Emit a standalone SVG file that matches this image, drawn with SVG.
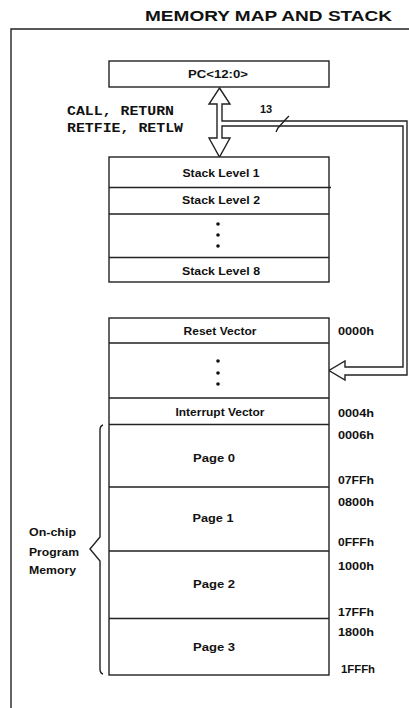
<svg xmlns="http://www.w3.org/2000/svg" width="409" height="708" viewBox="0 0 409 708">
<style>
.box{fill:#fff;stroke:#222;stroke-width:1.4}
.ln{fill:none;stroke:#222;stroke-width:1.4}
.lbl{font-family:"Liberation Sans",Arial,sans-serif;font-size:11px;font-weight:bold;fill:#111;text-anchor:middle}
.lft{text-anchor:start}
.addr{font-family:"Liberation Sans",Arial,sans-serif;font-size:10px;font-weight:bold;fill:#111}
.mono{font-family:"Liberation Mono","Courier New",monospace;font-size:12px;font-weight:bold;fill:#111}
.dot{fill:#111}
</style>
<rect width="409" height="708" fill="#fff"/>
<text x="145" y="21" font-family="Liberation Sans,Arial,sans-serif" font-size="14" font-weight="bold" textLength="247" lengthAdjust="spacingAndGlyphs" fill="#111">MEMORY MAP AND STACK</text>
<path class="ln" d="M11 708 V29 H409" stroke-width="1.8"/>

<g id="connectors">
<path class="box" d="M219.5 88 L230 104 L222 104 L222 121 L407 121 L407 375 L345 375 L345 380 L329 370.5 L345 361 L345 367 L403 367 L403 126 L222 126 L222 138 L230 138 L219.5 157 L209 138 L217 138 L217 104 L209 104 Z"/>
<path class="ln" d="M276 132 L278 128 L286 119 L289 116"/>
<text x="260" y="113" font-family="Liberation Sans,Arial,sans-serif" font-size="11" font-weight="bold" fill="#111">13</text>
</g>

<g id="pc">
<rect class="box" x="109" y="61" width="220" height="26"/>
<text class="lbl" x="218" y="78" textLength="60" lengthAdjust="spacingAndGlyphs">PC&lt;12:0&gt;</text>
</g>

<g id="instr">
<text class="mono" x="67" y="115" textLength="107" lengthAdjust="spacingAndGlyphs">CALL, RETURN</text>
<text class="mono" x="67" y="132" textLength="116" lengthAdjust="spacingAndGlyphs">RETFIE, RETLW</text>
</g>

<g id="stack">
<rect class="box" x="109" y="157" width="220" height="125"/>
<path class="ln" d="M109 187.5 H331 M109 214 H329 M109 257.5 H329"/>
<text class="lbl" x="221" y="177" textLength="77" lengthAdjust="spacingAndGlyphs">Stack Level 1</text>
<text class="lbl" x="221" y="204" textLength="78" lengthAdjust="spacingAndGlyphs">Stack Level 2</text>
<circle class="dot" cx="218" cy="224" r="1.8"/>
<circle class="dot" cx="218" cy="235" r="1.8"/>
<circle class="dot" cx="218" cy="246" r="1.8"/>
<text class="lbl" x="221" y="275" textLength="78" lengthAdjust="spacingAndGlyphs">Stack Level 8</text>
</g>

<g id="memory">
<rect class="box" x="109" y="318" width="220" height="357"/>
<path class="ln" d="M109 343 H329 M109 398 H329 M109 424.5 H329 M109 487 H329 M109 551 H329 M109 618.5 H329"/>
<text class="lbl" x="220" y="335" textLength="73" lengthAdjust="spacingAndGlyphs">Reset Vector</text>
<circle class="dot" cx="218" cy="361" r="1.8"/>
<circle class="dot" cx="218" cy="373" r="1.8"/>
<circle class="dot" cx="218" cy="384" r="1.8"/>
<text class="lbl" x="220" y="416" textLength="89" lengthAdjust="spacingAndGlyphs">Interrupt Vector</text>
<text class="lbl" x="214" y="462" textLength="42" lengthAdjust="spacingAndGlyphs">Page 0</text>
<text class="lbl" x="213" y="522" textLength="41" lengthAdjust="spacingAndGlyphs">Page 1</text>
<text class="lbl" x="214" y="588" textLength="42" lengthAdjust="spacingAndGlyphs">Page 2</text>
<text class="lbl" x="214" y="651" textLength="42" lengthAdjust="spacingAndGlyphs">Page 3</text>
</g>

<g id="addresses">
<text class="addr" x="338" y="335" textLength="36" lengthAdjust="spacingAndGlyphs">0000h</text>
<text class="addr" x="338" y="417" textLength="36" lengthAdjust="spacingAndGlyphs">0004h</text>
<text class="addr" x="338" y="439" textLength="36" lengthAdjust="spacingAndGlyphs">0006h</text>
<text class="addr" x="338" y="484" textLength="36" lengthAdjust="spacingAndGlyphs">07FFh</text>
<text class="addr" x="338" y="506" textLength="36" lengthAdjust="spacingAndGlyphs">0800h</text>
<text class="addr" x="338" y="546" textLength="36" lengthAdjust="spacingAndGlyphs">0FFFh</text>
<text class="addr" x="338" y="570" textLength="36" lengthAdjust="spacingAndGlyphs">1000h</text>
<text class="addr" x="338" y="616" textLength="36" lengthAdjust="spacingAndGlyphs">17FFh</text>
<text class="addr" x="338" y="636" textLength="36" lengthAdjust="spacingAndGlyphs">1800h</text>
<text class="addr" x="341" y="673" textLength="34" lengthAdjust="spacingAndGlyphs">1FFFh</text>
</g>

<g id="brace">
<path class="ln" d="M103 425 Q100 426 100 430 V537 L90 549 L100 561 V669 Q100 673 103 674"/>
<text class="lbl lft" x="29" y="536" textLength="47" lengthAdjust="spacingAndGlyphs">On-chip</text>
<text class="lbl lft" x="29" y="556" textLength="50" lengthAdjust="spacingAndGlyphs">Program</text>
<text class="lbl lft" x="29" y="574" textLength="47" lengthAdjust="spacingAndGlyphs">Memory</text>
</g>
</svg>
